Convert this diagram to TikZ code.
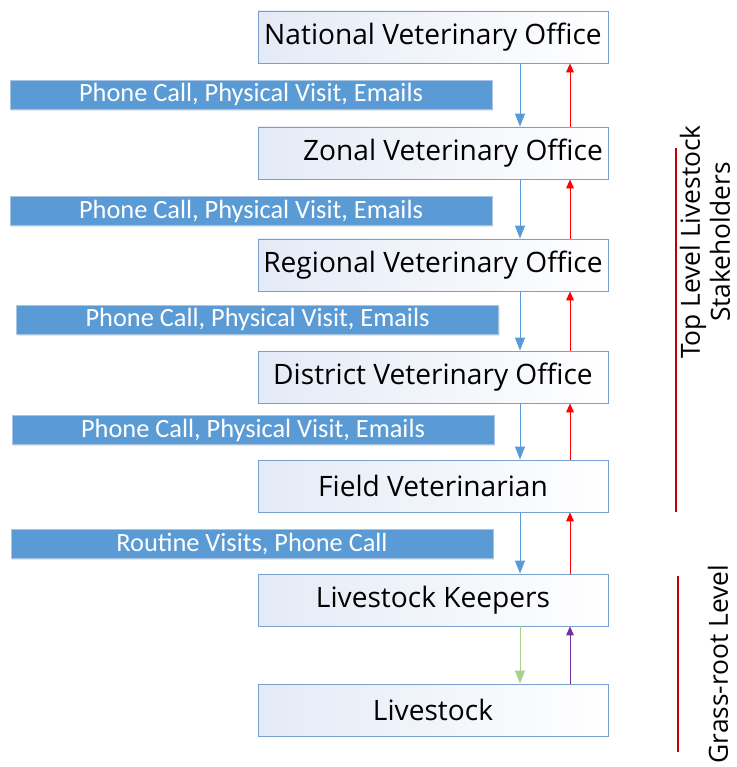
\documentclass[tikz,border=0pt]{standalone}
\usepackage{fontspec}
\setmainfont{Open Sans}
\newfontfamily\bannerfont{Carlito}
\usepackage{tikz}
\usetikzlibrary{
	arrows.meta,
	positioning,
	calc,
	shadows
}
\definecolor{boxline}{RGB}{122,160,208}
\definecolor{boxtint}{RGB}{228,234,246}
\definecolor{bannerblue}{RGB}{91,155,213}
\definecolor{bannerline}{RGB}{170,196,228}
\definecolor{keepgreen}{RGB}{169,209,142}
\definecolor{keeppurple}{RGB}{112,48,160}
\definecolor{levelred}{RGB}{192,0,0}

\begin{document}
\begin{tikzpicture}[
		x=0.03cm, y=-0.03cm,
		office/.style={draw=boxline, line width=0.8pt, rectangle, left color=boxtint, right color=white, minimum width=10.5cm, minimum height=1.56cm, inner sep=0pt, font=\fontsize{24}{28}\selectfont},
		banner/.style={draw=bannerline, line width=0.6pt, fill=bannerblue, text=white, minimum width=14.46cm, minimum height=0.87cm, inner sep=0pt, font=\bannerfont\fontsize{22.5}{25}\selectfont, drop shadow={opacity=0.2, shadow xshift=1pt, shadow yshift=-1.5pt}},
		down/.style={-{Triangle[width=8.5pt,length=11pt]}, bannerblue, line width=0.8pt},
		up/.style={-{Triangle[width=6.5pt,length=7.5pt]}, red, line width=0.8pt},
		level/.style={levelred, line width=1.3pt},
		sidetext/.style={rotate=90, align=center, inner sep=1pt, font=\fontsize{22.5}{25.5}\selectfont}
		]
		\useasboundingbox (0,0) rectangle (736,767);
		
		% Offices
		\node[office] (nvo) at (433,37) {National Veterinary Office};
		\node[office] (zvo) at (433,153) {\hspace{1.2cm}Zonal Veterinary Office};
		\node[office] (rvo) at (433,265) {Regional Veterinary Office};
		\node[office] (dvo) at (433,377) {District Veterinary Office};
		\node[office] (fv) at (433,486) {Field Veterinarian};
		\node[office] (keepers) at (433,600) {Livestock Keepers};
		\node[office] (stock) at (433,710) {Livestock};
		
		% Banners
		\node[banner] (b1) at (251,94.5) {Phone Call, Physical Visit, Emails};
		\node[banner] (b2) at (251,211) {Phone Call, Physical Visit, Emails};
		\node[banner] (b3) at (257.5,319.5) {Phone Call, Physical Visit, Emails};
		\node[banner] (b4) at (253,430) {Phone Call, Physical Visit, Emails};
		\node[banner] (b5) at (252,544) {Routine Visits, Phone Call};
		
		% Arrows
		\coordinate (dx) at (520,0);
		\coordinate (ux) at (570,0);
		\draw[down] (nvo.south -| dx) -- (zvo.north -| dx);
		\draw[down] (zvo.south -| dx) -- (rvo.north -| dx);
		\draw[down] (rvo.south -| dx) -- (dvo.north -| dx);
		\draw[down] (dvo.south -| dx) -- (fv.north -| dx);
		\draw[down] (fv.south -| dx) -- (keepers.north -| dx);
		\draw[up] (zvo.north -| ux) -- (nvo.south -| ux);
		\draw[up] (rvo.north -| ux) -- (zvo.south -| ux);
		\draw[up] (dvo.north -| ux) -- (rvo.south -| ux);
		\draw[up] (fv.north -| ux) -- (dvo.south -| ux);
		\draw[up] (keepers.north -| ux) -- (fv.south -| ux);
		\draw[down, keepgreen] (keepers.south -| dx) -- (stock.north -| dx);
		\draw[up, keeppurple] (stock.north -| ux) -- (keepers.south -| ux);
		
		% Levels
		\coordinate (topA) at (676,148);
		\coordinate (topB) at (676,512);
		\coordinate (rootA) at (678,576);
		\coordinate (rootB) at (678,752);
		\draw[level] (topA) -- (topB);
		\draw[level] (rootA) -- (rootB);
		\node[sidetext] (toplabel) at (705,242) {Top Level Livestock\\Stakeholders};
		\node[sidetext] (rootlabel) at (718,664) {Grass-root Level};
		
	\end{tikzpicture}
\end{document}
